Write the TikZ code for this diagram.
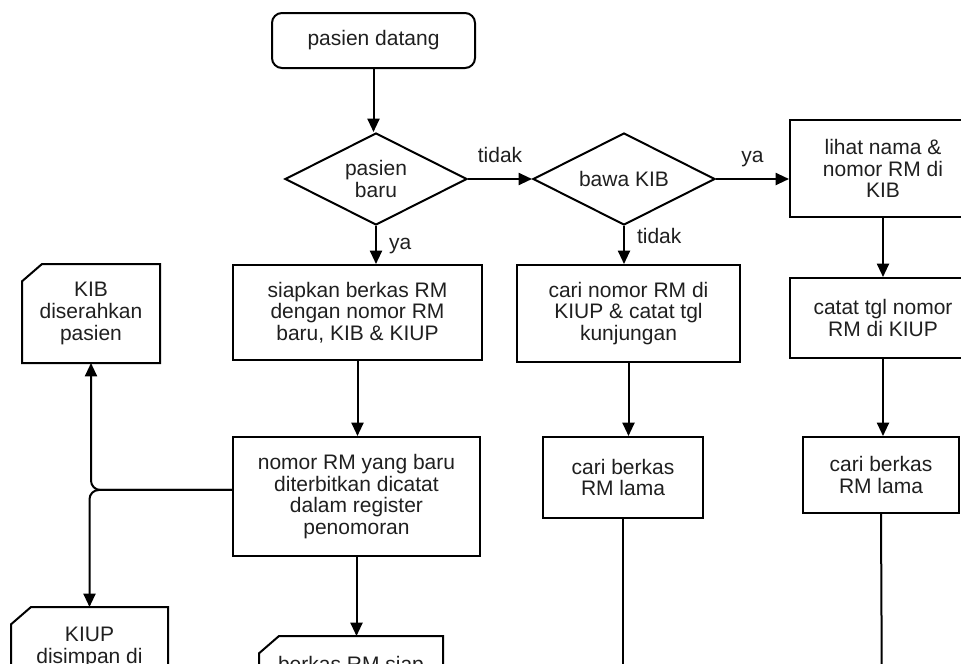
\documentclass[tikz,border=0pt]{standalone}
\usepackage{fontspec}
\setmainfont{Liberation Sans}
\usetikzlibrary{arrows.meta,shapes.geometric}
\begin{document}
\begin{tikzpicture}[x=0.75pt,y=-0.75pt,
  every node/.style={font=\fontsize{15.75pt}{16.3pt}\selectfont, text=black!88},
  base/.style={draw=black, line width=1.5pt, inner sep=0pt, align=center},
  proc/.style={base, rectangle},
  term/.style={base, rectangle, rounded corners=7.5pt},
  dec/.style={base, diamond, aspect=2},
  card/.style={base, draw=none, rectangle},
  cardline/.style={line width=1.5pt, line join=miter},
  conn/.style={line width=1.5pt, -{Triangle[length=10pt,width=9pt]}},
  plainline/.style={line width=1.5pt},
  lbl/.style={inner sep=0pt}
]
\useasboundingbox (0,0) rectangle (961,664);
\clip (0,0) rectangle (961,664);

\node[term, minimum width=152.25pt, minimum height=41.25pt] (start) at (373.5,40.5) {pasien datang};
\node[dec, minimum width=136.5pt, minimum height=69pt] (d1) at (376,179) {pasien\\baru};
\node[dec, minimum width=136.5pt, minimum height=69pt] (d2) at (624,179) {bawa KIB};
\node[proc, minimum width=139.5pt, minimum height=72.75pt] (lihat) at (883,168.5) {lihat nama \&\\nomor RM di\\KIB};
\node[proc, minimum width=186.75pt, minimum height=71.25pt] (siap) at (357.5,312.5) {siapkan berkas RM\\dengan nomor RM\\baru, KIB \& KIUP};
\node[proc, minimum width=167.25pt, minimum height=72.75pt] (carinomor) at (628.5,313.5) {cari nomor RM di\\KIUP \& catat tgl\\kunjungan};
\node[proc, minimum width=139.5pt, minimum height=60pt] (catat) at (883,318) {catat tgl nomor\\RM di KIUP};
\node[proc, minimum width=185.25pt, minimum height=89.25pt] (nomorbaru) at (356.5,496.5) {nomor RM yang baru\\diterbitkan dicatat\\dalam register\\penomoran};
\node[proc, minimum width=120pt, minimum height=60.75pt] (cariL) at (623,477.5) {cari berkas\\RM lama};
\node[proc, minimum width=117pt, minimum height=57pt] (cariR) at (881,475) {cari berkas\\RM lama};
\node[card, minimum width=102pt, minimum height=72.75pt] (kib) at (91,313.5) {KIB\\diserahkan\\pasien};
\node[card, minimum width=116.25pt, minimum height=72.75pt] (kiup) at (89.5,656.5) {KIUP\\disimpan di\\\mbox{}};
\node[card, minimum width=136.5pt, minimum height=72.75pt] (berkas) at (351,685.5) {berkas RM siap\\\mbox{}\\\mbox{}};

\foreach \c in {kib,kiup,berkas}{
  \draw[cardline] ([yshift=-13pt]\c.north west) -- ([xshift=15pt]\c.north west)
    -- (\c.north east) -- (\c.south east) -- (\c.south west) -- cycle;
}

\coordinate (endL) at (623,720);
\coordinate (endR) at (882,720);

\draw[conn] (start.south) -- (start.south |- d1.north);
\draw[conn] (d1.east) -- node[lbl, midway, anchor=base, yshift=12.75pt] {tidak} (d2.west);
\draw[conn] (d2.east) -- node[lbl, midway, anchor=base, yshift=12.75pt] {ya} (d2.east -| lihat.west);
\draw[conn] (d1.south) -- node[lbl, pos=0.625, anchor=base west, xshift=9pt] {ya} (d1.south |- siap.north);
\draw[conn] (d2.south) -- node[lbl, pos=0.45, anchor=base west, xshift=9pt] {tidak} (d2.south |- carinomor.north);
\draw[conn] (lihat.south) -- (lihat.south |- catat.north);
\draw[conn] (siap.south) -- (siap.south |- nomorbaru.north);
\draw[conn] (carinomor.south) -- (carinomor.south |- cariL.north);
\draw[conn] (catat.south) -- (catat.south |- cariR.north);
\draw[conn] (nomorbaru.south) -- (nomorbaru.south |- berkas.north);
\draw[plainline] (cariL.south) -- (endL);
\draw[plainline] (cariR.south) -- (endR);
\draw[conn, rounded corners=7pt] ([yshift=4.9pt]nomorbaru.west) -| (kib.south);
\draw[conn, rounded corners=7pt] ([yshift=4.9pt]nomorbaru.west) -| (kiup.north);
\end{tikzpicture}
\end{document}
